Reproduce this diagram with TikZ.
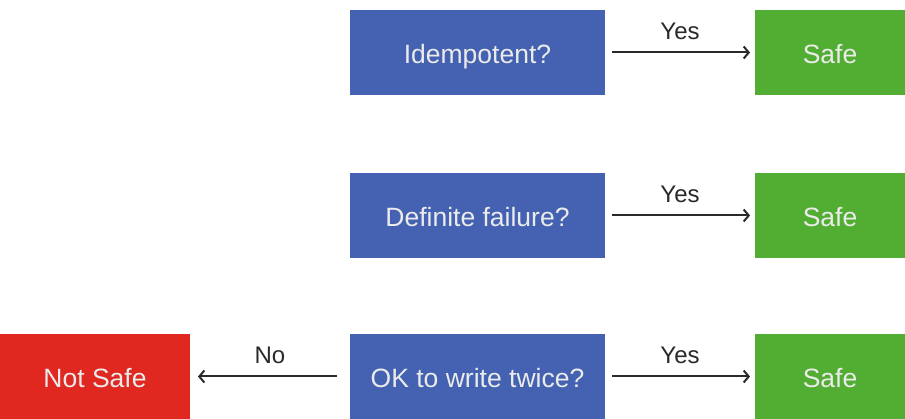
\documentclass[tikz,border=0pt]{standalone}
\usepackage{fontspec}
\setmainfont{Liberation Sans}
\usetikzlibrary{arrows.meta}
\definecolor{qblue}{HTML}{4462B1}
\definecolor{qgreen}{HTML}{52AE32}
\definecolor{qred}{HTML}{E02720}
\definecolor{qline}{HTML}{2A2A2A}
\newcommand{\boxtext}[1]{\raisebox{-1.5pt}[\height][0pt]{#1}}
\begin{document}
\begin{tikzpicture}[x=1pt,y=-1pt,
  box/.style={inner sep=0pt, outer sep=0pt, text=white!92!black,
    font=\fontsize{26.5}{30}\selectfont},
  qbox/.style={box, fill=qblue, minimum width=255pt, minimum height=85pt},
  safebox/.style={box, fill=qgreen, minimum width=150pt, minimum height=85pt},
  badbox/.style={box, fill=qred, minimum width=190pt, minimum height=85pt},
  conn/.style={draw=qline, line width=2pt, -{Straight Barb[length=5pt,width=12pt,line width=2pt]}, shorten <=7pt, shorten >=5pt},
  lbl/.style={font=\fontsize{24}{28}\selectfont, text=qline, above=8pt}
]
\useasboundingbox[fill=white] (0,0) rectangle (905,419);
\node[qbox] (q1) at (477.5,52.5) {\boxtext{Idempotent?}};
\node[qbox] (q2) at (477.5,215.5) {\boxtext{Definite failure?}};
\node[qbox] (q3) at (477.5,376.5) {\boxtext{OK to write twice?}};
\node[safebox] (s1) at (830,52.5) {\boxtext{Safe}};
\node[safebox] (s2) at (830,215.5) {\boxtext{Safe}};
\node[safebox] (s3) at (830,376.5) {\boxtext{Safe}};
\node[badbox] (ns) at (95,376.5) {\boxtext{Not Safe}};
\draw[conn] (q1) -- node[lbl] {Yes} (s1);
\draw[conn] (q2) -- node[lbl] {Yes} (s2);
\draw[conn] (q3) -- node[lbl] {Yes} (s3);
\draw[conn, shorten <=13pt, shorten >=8pt] (q3) -- node[lbl] {No} (ns);
\end{tikzpicture}
\end{document}
